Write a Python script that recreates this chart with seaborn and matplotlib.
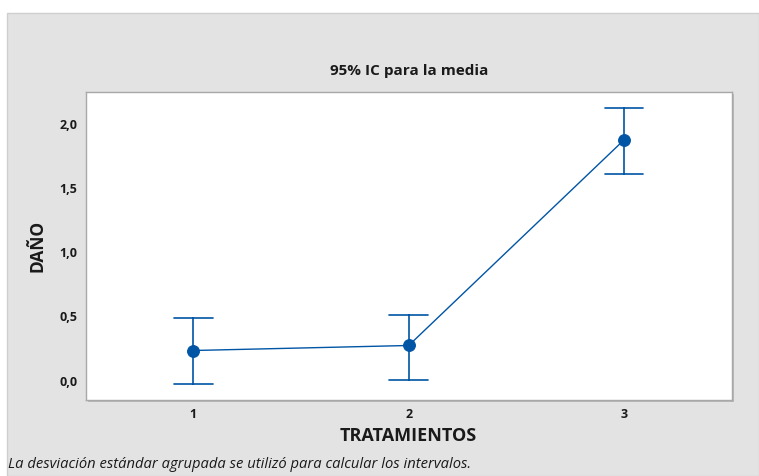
import numpy as np
import pandas as pd
import matplotlib
matplotlib.use("Agg")
import matplotlib.pyplot as plt
from matplotlib.patches import Rectangle
from matplotlib.ticker import FuncFormatter
import seaborn as sns

tratamientos = ["1", "2", "3"]
medias = [0.235, 0.274, 1.873]
inferior = [-0.029, 0.008, 1.606]
superior = [0.490, 0.515, 2.124]
yticks = [0.0, 0.5, 1.0, 1.5, 2.0]

sns.set_theme(style="white")
plt.rcParams['font.family'] = ['Open Sans', 'DejaVu Sans']

rows = []
for t, lo, m, hi in zip(tratamientos, inferior, medias, superior):
    for v in (lo, m, hi):
        rows.append({"TRATAMIENTOS": t, "DAÑO": v})
df = pd.DataFrame(rows)

W, H = 759, 476
fig = plt.figure(figsize=(W / 100, H / 100), dpi=100)
fig.patch.set_facecolor("white")
fig.patches.append(Rectangle((7 / W, 0), 1 - 7 / W, 1 - 13 / H, transform=fig.transFigure,
                             facecolor="#e3e3e3", edgecolor="#cfcfcf", lw=1.0, zorder=-10))

l, r, t, b = 85.7, 731.7, 91.7, 400
# shadow
fig.patches.append(Rectangle(((l + 2) / W, (H - b - 2) / H), (r - l) / W, (b - t) / H,
                             transform=fig.transFigure, facecolor="#b9b9b9",
                             edgecolor="none", zorder=-5))
ax = fig.add_axes([l / W, (H - b) / H, (r - l) / W, (b - t) / H])
ax.set_facecolor("white")

blue = "#0055a5"
sns.pointplot(data=df, x="TRATAMIENTOS", y="DAÑO", estimator="median",
              errorbar=lambda v: (v.min(), v.max()), capsize=0.18,
              color=blue, markersize=8.5, linewidth=1.0, err_kws={"linewidth": 1.2},
              ax=ax)

ax.set_xlim(-0.5, 2.5)
ax.set_ylim(-0.15, 2.248)
ax.set_yticks(yticks)
ax.yaxis.set_major_formatter(FuncFormatter(lambda v, p: f"{v:.1f}".replace(".", ",")))
for s in ax.spines.values():
    s.set_color("#a8a8a8")
    s.set_linewidth(1.0)
ax.tick_params(axis="both", which="both", length=3, width=1, color="#a8a8a8",
               labelsize=9, labelcolor="#1a1a1a", pad=3)
for lab in ax.get_xticklabels() + ax.get_yticklabels():
    lab.set_fontweight("bold")

ax.set_xlabel("TRATAMIENTOS", fontsize=13, fontweight="bold", color="#1a1a1a", labelpad=4)
ax.set_ylabel("DAÑO", fontsize=12.5, fontweight="bold", color="#1a1a1a", labelpad=9)
ax.set_title("95% IC para la media", fontsize=11, fontweight="bold", color="#1a1a1a", pad=12)

fig.text(8 / W, 1 - 465 / H, "La desviación estándar agrupada se utilizó para calcular los intervalos.",
         fontsize=10.6, style="italic", color="#1a1a1a", va="center", ha="left")

fig.savefig("out.png", dpi=100)
